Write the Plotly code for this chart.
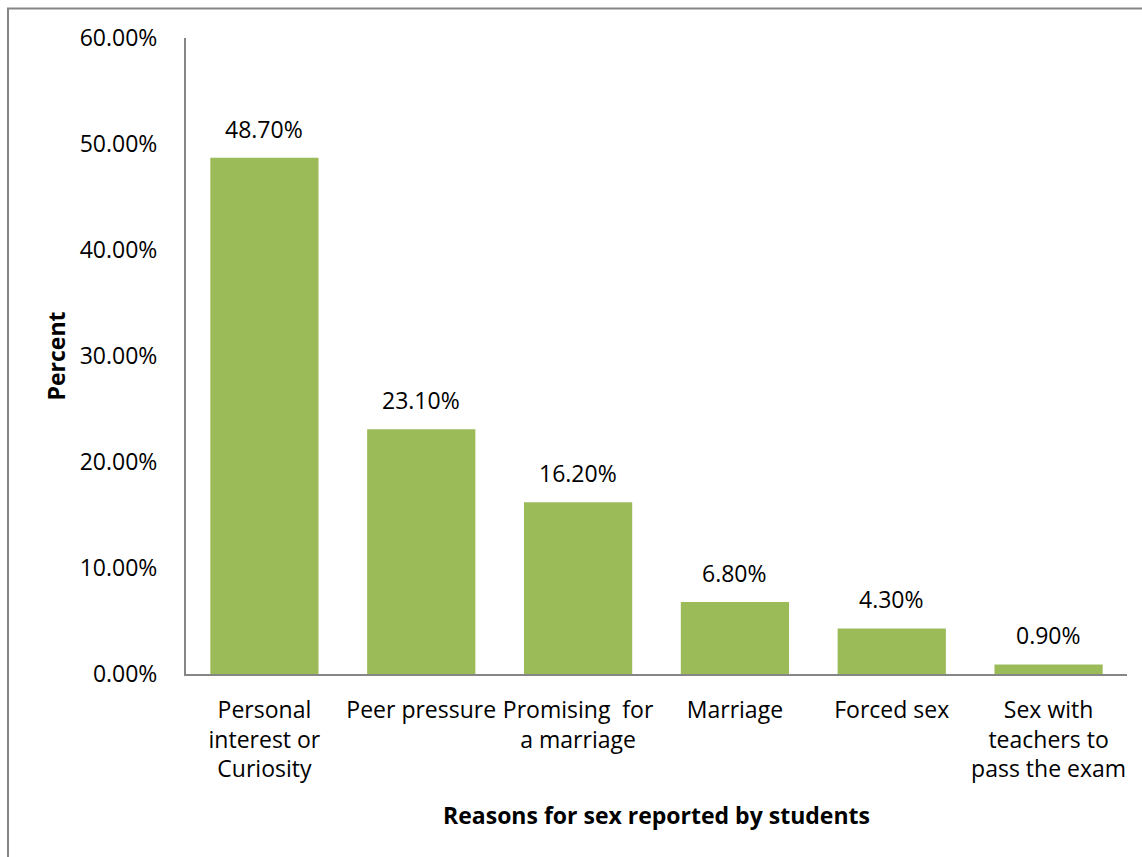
import plotly.graph_objects as go

categories = ["Personal<br>interest or<br>Curiosity", "Peer pressure", "Promising  for<br>a marriage",
              "Marriage", "Forced sex", "Sex with<br>teachers to<br>pass the exam"]
values = [48.7, 23.1, 16.2, 6.8, 4.3, 0.9]
labels = [f"{v:.2f}%" for v in values]
tick_vals = [0, 10, 20, 30, 40, 50, 60]
tick_text = [f"{v:.2f}%" for v in tick_vals]

FONT = "Open Sans"
FS = 23
fig = go.Figure(go.Bar(
    x=categories, y=values,
    marker=dict(color="#9BBB59", line=dict(width=0)),
    cliponaxis=False,
))
for c, v, t in zip(categories, values, labels):
    fig.add_annotation(x=c, y=v, text=t, showarrow=False, yanchor="bottom", yshift=11,
                       font=dict(family=FONT, size=FS, color="#000000"))
fig.update_layout(
    width=1142, height=857,
    margin=dict(l=186, r=15, t=38, b=183),
    paper_bgcolor="white", plot_bgcolor="white",
    bargap=0.31, showlegend=False,
    font=dict(family=FONT, size=FS, color="#000000"),
)
fig.update_yaxes(range=[0, 60], tickvals=tick_vals, ticktext=tick_text,
                 showgrid=False, zeroline=False, showline=True, linecolor="#868686", linewidth=2,
                 ticks="", ticklabelstandoff=22,
                 title=dict(text="<b>Percent</b>", font=dict(size=FS), standoff=8))
fig.update_xaxes(showgrid=False, showline=True, linecolor="#868686", linewidth=2, ticks="",
                 ticklabelstandoff=14, tickangle=0,
                 title=dict(text="<b>Reasons for sex reported by students</b>", font=dict(size=FS), standoff=24))
fig.add_shape(type="rect", xref="paper", yref="paper",
              x0=-178/941, x1=1.05, y0=-0.3, y1=(674-8.5)/636,
              line=dict(color="#868686", width=2), fillcolor="rgba(0,0,0,0)", layer="above")
fig.write_html("out.html")
